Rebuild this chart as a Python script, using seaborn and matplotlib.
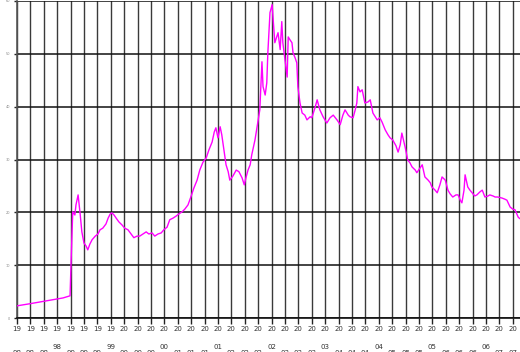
import numpy as np
import pandas as pd
import matplotlib
matplotlib.use('Agg')
import matplotlib.pyplot as plt
import seaborn as sns

# series (decimal year, value)
years = [1998.00, 1998.24, 1998.52, 1998.86, 1998.99, 1999.01, 1999.03, 1999.04, 1999.08, 1999.10,
         1999.14, 1999.16, 1999.18, 1999.21, 1999.25, 1999.29, 1999.32, 1999.36, 1999.40, 1999.46,
         1999.51, 1999.55, 1999.60, 1999.66, 1999.70, 1999.74, 1999.77, 1999.81, 1999.85, 1999.90,
         1999.96, 2000.01, 2000.07, 2000.13, 2000.18, 2000.24, 2000.29, 2000.35, 2000.41, 2000.46,
         2000.52, 2000.57, 2000.63, 2000.69, 2000.74, 2000.80, 2000.85, 2000.91, 2000.97, 2001.02,
         2001.08, 2001.13, 2001.19, 2001.25, 2001.30, 2001.36, 2001.41, 2001.47, 2001.53, 2001.58,
         2001.64, 2001.68, 2001.71, 2001.75, 2001.79, 2001.82, 2001.86, 2001.90, 2001.94, 2001.97,
         2002.03, 2002.09, 2002.14, 2002.20, 2002.24, 2002.27, 2002.31, 2002.35, 2002.38, 2002.44,
         2002.48, 2002.53, 2002.57, 2002.59, 2002.63, 2002.66, 2002.68, 2002.72, 2002.76, 2002.78,
         2002.81, 2002.87, 2002.91, 2002.94, 2002.96, 2003.00, 2003.04, 2003.06, 2003.09, 2003.13,
         2003.15, 2003.19, 2003.22, 2003.24, 2003.28, 2003.32, 2003.37, 2003.41, 2003.47, 2003.50,
         2003.56, 2003.60, 2003.65, 2003.71, 2003.78, 2003.84, 2003.90, 2003.97, 2004.03, 2004.08,
         2004.12, 2004.18, 2004.21, 2004.27, 2004.31, 2004.34, 2004.36, 2004.40, 2004.44, 2004.49,
         2004.55, 2004.59, 2004.64, 2004.72, 2004.77, 2004.81, 2004.87, 2004.92, 2004.96, 2005.01,
         2005.07, 2005.11, 2005.15, 2005.18, 2005.24, 2005.29, 2005.33, 2005.37, 2005.43, 2005.46,
         2005.52, 2005.56, 2005.61, 2005.67, 2005.71, 2005.74, 2005.80, 2005.84, 2005.89, 2005.93,
         2005.99, 2006.04, 2006.08, 2006.13, 2006.19, 2006.23, 2006.27, 2006.30, 2006.34, 2006.36,
         2006.41, 2006.45, 2006.49, 2006.54, 2006.58, 2006.64, 2006.68, 2006.73, 2006.79, 2006.82,
         2006.88, 2006.92, 2006.97, 2007.05, 2007.10, 2007.14, 2007.20, 2007.25, 2007.29, 2007.35,
         2007.38]
values = [2.3, 2.7, 3.2, 3.8, 4.2, 11.0, 16.7, 20.1, 19.5, 21.4,
          23.3, 21.4, 19.5, 16.3, 14.2, 13.6, 12.9, 14.0, 14.8, 15.5,
          15.9, 16.7, 17.0, 17.8, 18.9, 19.7, 19.9, 19.5, 18.9, 18.2,
          17.6, 17.0, 16.7, 15.9, 15.2, 15.5, 15.5, 15.9, 16.3, 15.9,
          16.1, 15.5, 15.9, 16.1, 16.7, 17.2, 18.6, 18.9, 19.3, 19.7,
          20.1, 20.6, 21.4, 23.1, 24.6, 26.1, 28.0, 29.5, 30.3, 31.8,
          33.3, 35.2, 36.0, 34.1, 36.2, 34.7, 31.8, 29.0, 27.7, 26.1,
          26.9, 28.0, 27.7, 26.5, 25.2, 26.5, 28.0, 29.0, 30.9, 33.7,
          36.2, 39.4, 48.5, 43.8, 42.2, 44.5, 50.2, 57.8, 59.3, 56.4,
          52.1, 54.0, 50.8, 56.1, 52.1, 48.9, 45.6, 53.2, 52.7, 52.1,
          50.2, 49.2, 48.3, 43.8, 40.7, 38.8, 38.4, 37.5, 38.1, 37.9,
          39.8, 41.3, 39.4, 38.1, 36.9, 37.9, 38.4, 37.5, 36.6, 38.4,
          39.4, 38.4, 38.1, 37.9, 39.4, 40.7, 43.8, 42.8, 43.2, 40.7,
          40.9, 41.3, 38.8, 37.5, 37.9, 37.1, 35.6, 34.7, 34.1, 33.7,
          32.6, 31.4, 32.8, 35.0, 32.4, 29.9, 29.4, 28.6, 28.0, 27.5,
          28.4, 29.0, 26.7, 26.1, 25.6, 24.8, 24.2, 23.7, 25.2, 26.7,
          26.1, 24.2, 23.5, 22.9, 23.3, 23.3, 22.3, 21.8, 24.2, 27.1,
          24.8, 24.2, 23.7, 23.1, 23.3, 23.9, 24.2, 22.9, 23.1, 23.3,
          23.1, 22.9, 22.9, 22.7, 22.5, 22.3, 21.0, 20.6, 20.5, 19.1,
          18.8]

# quarterly ticks, 1998 Q1 .. 2007 Q2
tick_pos = [1998 + q / 4 for q in range(38)]
tick_labels = [f"{int(t)}"[:2] + "\n" + f"{int(t)}"[2:] for t in tick_pos]
y_ticks = [0, 10, 20, 30, 40, 50, 60]
y_labels = ["0", "10", "20", "30", "40", "50", "60"]

df = pd.DataFrame({'year': years, 'value': values})

sns.set_style('white')
fig = plt.figure(figsize=(5.2, 3.52), dpi=100)
ax = fig.add_axes([17 / 520, 34 / 352, 503 / 520, 317 / 352])

sns.lineplot(data=df, x='year', y='value', color='#ff00ff', linewidth=1.0,
             estimator=None, sort=False, ax=ax, zorder=3)

ax.set_xlim(1998.0, 1998 + 503 / 53.6)
ax.set_ylim(0, 60)
ax.set_xticks(tick_pos)
ax.set_xticklabels(tick_labels, fontsize=5, color='#333333')
# the yearly (4th quarter) label sits higher; the rest run off the bottom edge
for i, lab in enumerate(ax.get_xticklabels()):
    lab.set_linespacing(3.3 if i % 4 == 3 else 4.6)
ax.set_yticks(y_ticks)
ax.set_yticklabels(y_labels, fontsize=2.5, color='#888888')
ax.set_xlabel('')
ax.set_ylabel('')

ax.grid(axis='x', color='#3a3a3a', linewidth=1.0)
ax.grid(axis='y', color='#111111', linewidth=1.1)
ax.set_axisbelow(True)
ax.tick_params(axis='x', direction='out', length=4, width=1, color='#222222', pad=2, bottom=True)
ax.tick_params(axis='y', direction='out', length=2, width=1, color='#222222', pad=3, left=True)

for side in ['top', 'right']:
    ax.spines[side].set_visible(False)
ax.spines['left'].set_color('#555555')
ax.spines['left'].set_linewidth(1.2)
ax.spines['bottom'].set_color('#111111')
ax.spines['bottom'].set_linewidth(1.2)

fig.savefig('out.png', dpi=100)
